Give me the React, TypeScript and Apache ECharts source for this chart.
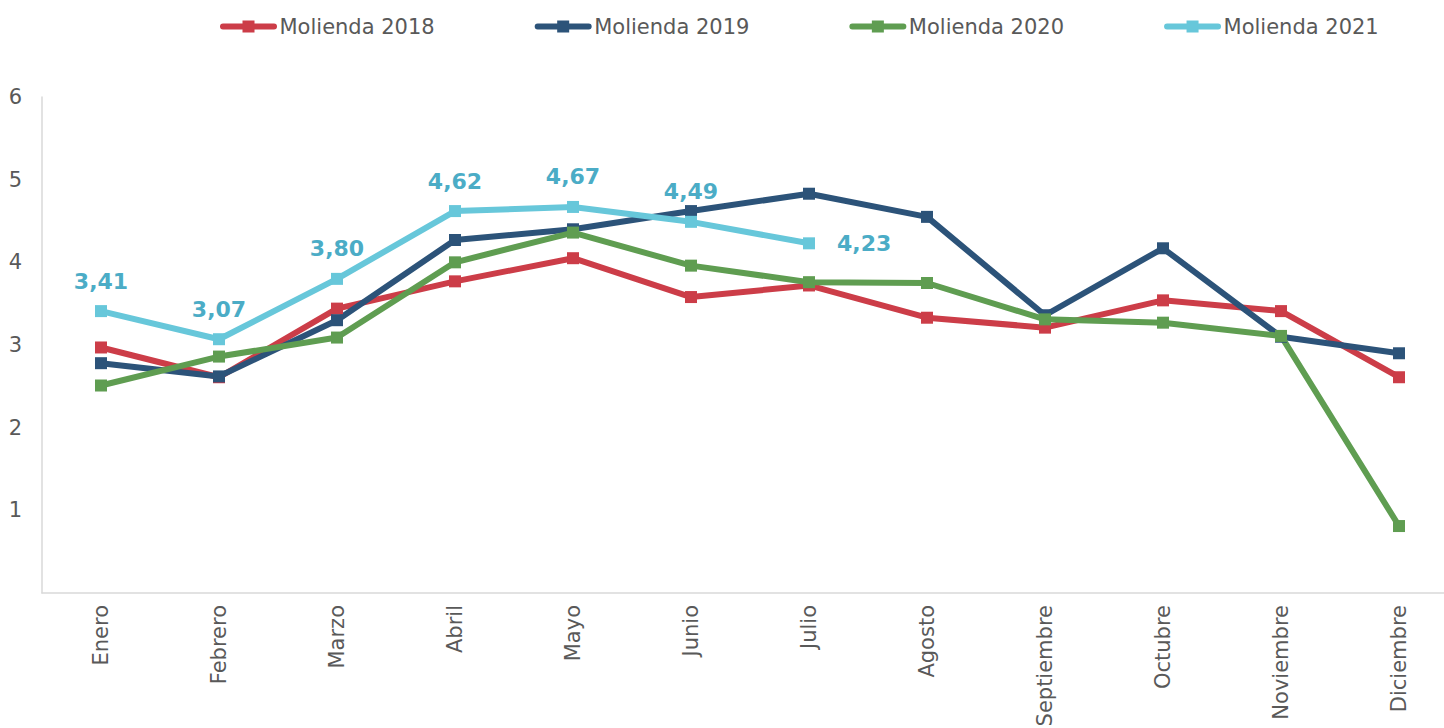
import React, { useEffect, useRef } from "react";
import * as echarts from "echarts";

const months = ["Enero", "Febrero", "Marzo", "Abril", "Mayo", "Junio", "Julio", "Agosto", "Septiembre", "Octubre", "Noviembre", "Diciembre"];
const m2018 = [2.97, 2.61, 3.44, 3.77, 4.05, 3.58, 3.72, 3.33, 3.21, 3.54, 3.41, 2.61];
const m2019 = [2.78, 2.62, 3.3, 4.27, 4.4, 4.62, 4.83, 4.55, 3.36, 4.17, 3.1, 2.9];
const m2020 = [2.51, 2.86, 3.09, 4.0, 4.36, 3.96, 3.76, 3.75, 3.31, 3.27, 3.11, 0.81];
const m2021 = [3.41, 3.07, 3.8, 4.62, 4.67, 4.49, 4.23];

const colors = ["#CC3D48", "#2C5379", "#5F9D51", "#67C7DA"];
const font = "Verdana, 'DejaVu Sans', sans-serif";
const legendIcon =
  "path://M3.5,3 L23,3 L23,0 L35,0 L35,3 L54.5,3 A3,3 0 0 1 54.5,9 L35,9 L35,12 L23,12 L23,9 L3.5,9 A3,3 0 0 1 3.5,3 Z";

export default function App() {
  const ref = useRef<HTMLDivElement>(null);
  useEffect(() => {
    const chart = echarts.init(ref.current!, null, { renderer: "svg" });
    const mk = (name: string, data: any[], color: string, extra: any = {}) => ({
      name,
      type: "line",
      data,
      symbol: "rect",
      symbolSize: 12,
      showAllSymbol: true,
      lineStyle: { color, width: 6 },
      itemStyle: { color },
      z: 2,
      ...extra,
    });
    chart.setOption({
      animation: false,
      textStyle: { fontFamily: font },
      legend: {
        top: 11,
        left: 215,
        itemWidth: 58,
        itemHeight: 12,
        itemGap: 100,
        icon: legendIcon,
        textStyle: { fontSize: 21, color: "#595959", fontFamily: font, padding: [0, 0, 0, -3] },
        data: ["Molienda 2018", "Molienda 2019", "Molienda 2020", "Molienda 2021"],
      },
      grid: { left: 42, right: -14, top: 97, bottom: 135, containLabel: false, outerBoundsMode: "none" },
      xAxis: {
        type: "category",
        data: months,
        boundaryGap: true,
        axisLine: { lineStyle: { color: "#D9D9D9", width: 1.5 } },
        axisTick: { show: false },
        axisLabel: { rotate: 90, fontSize: 21, color: "#595959", margin: 12, fontFamily: font, interval: 0 },
      },
      yAxis: {
        type: "value",
        min: 0,
        max: 6,
        interval: 1,
        axisLine: { show: true, lineStyle: { color: "#D9D9D9", width: 1.5 } },
        axisTick: { show: false },
        splitLine: { show: false },
        axisLabel: {
          fontSize: 21,
          color: "#595959",
          margin: 20,
          fontFamily: font,
          formatter: (v: number) => (v === 0 ? "" : String(v)),
        },
      },
      series: [
        mk("Molienda 2018", m2018, colors[0]),
        mk("Molienda 2019", m2019, colors[1]),
        mk("Molienda 2020", m2020, colors[2]),
        mk("Molienda 2021", m2021.map((v, i) => (i === 6 ? { value: v, label: { position: "right", distance: 22 } } : v)), colors[3], {
          z: 3,
          label: {
            show: true,
            position: "top",
            distance: 13,
            color: "#4BACC6",
            fontSize: 22,
            fontWeight: "bold",
            fontFamily: font,
            formatter: (p: any) => Number(p.value).toFixed(2).replace(".", ","),
          },
        }),
      ],
    });
    return () => chart.dispose();
  }, []);
  return <div ref={ref} style={{ width: 1444, height: 728, position: "absolute", left: 0, top: 0 }} />;
}
